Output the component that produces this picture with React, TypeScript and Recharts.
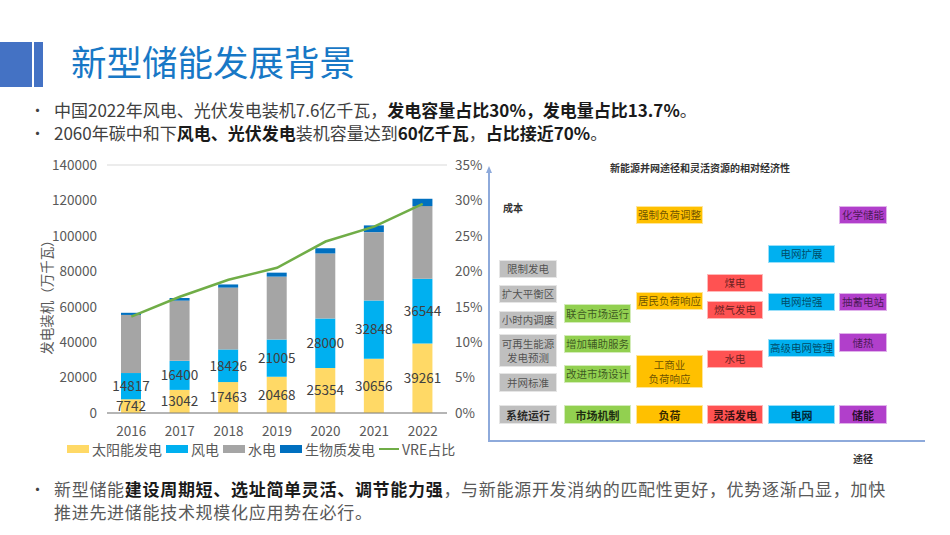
import React from 'react';
import { ComposedChart, Bar, Line, XAxis, YAxis, CartesianGrid, Legend, LabelList } from 'recharts';

// installed capacity, 万千瓦
const years = ['2016', '2017', '2018', '2019', '2020', '2021', '2022'];
const solar = [7742, 13042, 17463, 20468, 25354, 30656, 39261];
const wind = [14817, 16400, 18426, 21005, 28000, 32848, 36544];
const hydro = [32800, 34000, 34900, 35500, 36700, 38600, 41000];
const biomass = [1214, 1488, 1781, 2254, 2952, 3798, 4132];
const vreShare = [13.6, 16.4, 18.8, 20.5, 24.2, 26.3, 29.5];
const leftTicks = [0, 20000, 40000, 60000, 80000, 100000, 120000, 140000];
const rightTicks = [0, 5, 10, 15, 20, 25, 30, 35];
const legendOrder = ['太阳能发电', '风电', '水电', '生物质发电', 'VRE占比'];

// diagram text
const diagramCategories = ['系统运行', '市场机制', '负荷', '灵活发电', '电网', '储能'];
const diagramItems = [
  ['限制发电', '扩大平衡区', '小时内调度', '可再生能源\n发电预测', '并网标准'],
  ['联合市场运行', '增加辅助服务', '改进市场设计'],
  ['强制负荷调整', '居民负荷响应', '工商业\n负荷响应'],
  ['煤电', '燃气发电', '水电'],
  ['电网扩展', '电网增强', '高级电网管理'],
  ['化学储能', '抽蓄电站', '储热'],
];

const data = years.map((year, i) => ({
  year,
  solar: solar[i],
  wind: wind[i],
  hydro: hydro[i],
  biomass: biomass[i],
  vre: vreShare[i],
}));

const FONT = '"Noto Sans CJK SC", "Noto Sans", sans-serif';
const AXIS_COLOR = '#595959';

// layout of the diagram boxes (x, width per column; top, height per item)
const colLayout = [
  { x: 499, w: 58 },
  { x: 564, w: 67 },
  { x: 636, w: 67 },
  { x: 707, w: 56 },
  { x: 768, w: 67 },
  { x: 839, w: 48 },
];
const itemLayout = [
  [[260, 18], [285, 18], [311, 18], [334, 33], [373, 19]],
  [[304, 19], [335, 18], [365, 18]],
  [[206, 18], [292, 18], [355, 33]],
  [[274, 18], [301, 18], [350, 18]],
  [[245, 18], [293, 18], [339, 18]],
  [[206, 18], [293, 18], [333, 19]],
];
const colColors = ['#BFBFBF', '#92D050', '#FFC000', '#FF5252', '#00B0F0', '#B13FCB'];

const renderLegend = (props: any) => {
  const items = [...(props.payload || [])].sort(
    (a: any, b: any) => legendOrder.indexOf(a.value) - legendOrder.indexOf(b.value)
  );
  return (
    <div style={{ display: 'flex', alignItems: 'center', height: 20, paddingLeft: 67, fontSize: 14, color: AXIS_COLOR, fontFamily: FONT }}>
      {items.map((entry: any) => (
        <span key={entry.value} style={{ display: 'flex', alignItems: 'center', marginRight: 4, whiteSpace: 'nowrap' }}>
          {entry.type === 'line' ? (
            <span style={{ width: 20, height: 2.5, background: entry.color, marginRight: 3 }} />
          ) : (
            <span style={{ width: 22, height: 8, background: entry.color, marginRight: 3 }} />
          )}
          {entry.value}
        </span>
      ))}
    </div>
  );
};

const Box = ({ x, y, w, h, color, text, bold }: any) => (
  <div
    style={{
      position: 'absolute',
      left: x,
      top: y,
      width: w,
      height: h,
      background: color,
      border: '1px solid rgba(255,255,255,0.6)',
      boxSizing: 'border-box',
      display: 'flex',
      alignItems: 'center',
      justifyContent: 'center',
      textAlign: 'center',
      whiteSpace: 'pre-line',
      fontSize: bold ? 11 : 10.5,
      lineHeight: '14px',
      fontWeight: bold ? 700 : 400,
      color: bold ? 'rgba(0,0,0,0.8)' : 'rgba(0,0,0,0.6)',
    }}
  >
    {text}
  </div>
);

const note: React.CSSProperties = { position: 'absolute', fontSize: 10, fontWeight: 700, color: '#333', whiteSpace: 'nowrap' };

const Diagram = () => (
  <div style={{ position: 'absolute', left: 0, top: 0, width: 950, height: 535, fontFamily: FONT }}>
    <div style={{ ...note, left: 600, top: 160, width: 200, textAlign: 'center' }}>新能源并网途径和灵活资源的相对经济性</div>
    <div style={{ ...note, left: 503, top: 200 }}>成本</div>
    <div style={{ ...note, left: 853, top: 451 }}>途径</div>
    <svg style={{ position: 'absolute', left: 480, top: 160 }} width={460} height={290}>
      <line x1={9} y1={12} x2={9} y2={282} stroke="#8EAADB" strokeWidth={2} />
      <line x1={8} y1={281} x2={445} y2={281} stroke="#8EAADB" strokeWidth={2} />
      <polygon points="9,6 6,13 12,13" fill="#8EAADB" />
    </svg>
    {diagramItems.map((items, c) =>
      items.map((text, i) => (
        <Box
          key={text}
          x={colLayout[c].x}
          y={itemLayout[c][i][0]}
          w={colLayout[c].w}
          h={itemLayout[c][i][1]}
          color={colColors[c]}
          text={text}
        />
      ))
    )}
    {diagramCategories.map((text, c) => (
      <Box key={text} x={colLayout[c].x} y={405} w={colLayout[c].w} h={19} color={colColors[c]} text={text} bold />
    ))}
  </div>
);

const bulletLine: React.CSSProperties = { position: 'absolute', left: 54, whiteSpace: 'nowrap', fontSize: 17, lineHeight: '22px', color: '#404040' };
const bullet: React.CSSProperties = { position: 'absolute', left: 30, fontSize: 15, lineHeight: '22px', color: '#404040' };
const strong: React.CSSProperties = { fontWeight: 700, color: '#1a1a1a' };
const bottomLine: React.CSSProperties = { ...bulletLine, fontSize: 17, letterSpacing: 0.7, color: '#595959' };

const App = () => {
  return (
    <div style={{ position: 'absolute', left: 0, top: 0, width: 950, height: 535, background: '#fff', fontFamily: FONT, overflow: 'hidden' }}>
      {/* title */}
      <div style={{ position: 'absolute', left: 0, top: 42, width: 32, height: 45, background: '#4472C4' }} />
      <div style={{ position: 'absolute', left: 34, top: 42, width: 9, height: 45, background: '#4472C4' }} />
      <div style={{ position: 'absolute', left: 71, top: 36, fontSize: 35.5, lineHeight: '50px', color: '#1878C6', whiteSpace: 'nowrap' }}>新型储能发展背景</div>

      {/* top bullets */}
      <div style={{ ...bullet, top: 99 }}>•</div>
      <div style={{ ...bulletLine, top: 99 }}>
        中国2022年风电、光伏发电装机7.6亿千瓦，<span style={strong}>发电容量占比30%，发电量占比13.7%</span>。
      </div>
      <div style={{ ...bullet, top: 122 }}>•</div>
      <div style={{ ...bulletLine, top: 122 }}>
        2060年碳中和下<span style={strong}>风电、光伏发电</span>装机容量达到<span style={strong}>60亿千瓦</span>，<span style={strong}>占比接近70%</span>。
      </div>

      {/* chart */}
      <div style={{ position: 'absolute', left: 0, top: 150 }}>
        <ComposedChart width={487} height={309} data={data} margin={{ top: 15, right: 0, bottom: 0, left: 0 }}>
          <CartesianGrid vertical={false} stroke="#D9D9D9" />
          <XAxis
            dataKey="year"
            height={26}
            tickLine={false}
            tickMargin={7}
            axisLine={{ stroke: '#7F7F7F' }}
            tick={{ fill: AXIS_COLOR, fontSize: 13.5 }}
          />
          <YAxis
            yAxisId="left"
            width={107}
            domain={[0, 140000]}
            ticks={leftTicks}
            axisLine={false}
            tickLine={false}
            tickMargin={4}
            tick={{ fill: AXIS_COLOR, fontSize: 13.5 }}
          />
          <YAxis
            yAxisId="right"
            orientation="right"
            width={40}
            domain={[0, 35]}
            ticks={rightTicks}
            axisLine={false}
            tickLine={false}
            tickFormatter={(v: number) => `${v}%`}
            tick={{ fill: AXIS_COLOR, fontSize: 13.5, textAnchor: 'start' }}
          />
          <Legend content={renderLegend} align="left" verticalAlign="bottom" wrapperStyle={{ left: 0 }} />
          <Bar yAxisId="left" dataKey="solar" name="太阳能发电" stackId="a" fill="#FFD966" barSize={20} isAnimationActive={false}>
            <LabelList dataKey="solar" position="center" fill="#404040" fontSize={13.5} />
          </Bar>
          <Bar yAxisId="left" dataKey="wind" name="风电" stackId="a" fill="#00B0F0" barSize={20} isAnimationActive={false}>
            <LabelList dataKey="wind" position="center" fill="#404040" fontSize={13.5} />
          </Bar>
          <Bar yAxisId="left" dataKey="hydro" name="水电" stackId="a" fill="#A5A5A5" barSize={20} isAnimationActive={false} />
          <Bar yAxisId="left" dataKey="biomass" name="生物质发电" stackId="a" fill="#0070C0" barSize={20} isAnimationActive={false} />
          <Line yAxisId="right" dataKey="vre" name="VRE占比" stroke="#70AD47" strokeWidth={2.5} dot={false} isAnimationActive={false} />
        </ComposedChart>
      </div>
      <div
        style={{
          position: 'absolute',
          left: 46,
          top: 294,
          transform: 'translate(-50%, -50%) rotate(-90deg)',
          fontSize: 13.5,
          color: AXIS_COLOR,
          whiteSpace: 'nowrap',
        }}
      >
        发电装机（万千瓦）
      </div>

      <Diagram />

      {/* bottom bullet */}
      <div style={{ ...bullet, top: 478 }}>•</div>
      <div style={{ ...bottomLine, top: 478 }}>
        新型储能<span style={strong}>建设周期短、选址简单灵活、调节能力强</span>，与新能源开发消纳的匹配性更好，优势逐渐凸显，加快
      </div>
      <div style={{ ...bottomLine, top: 501 }}>推进先进储能技术规模化应用势在必行。</div>
    </div>
  );
};

export default App;
